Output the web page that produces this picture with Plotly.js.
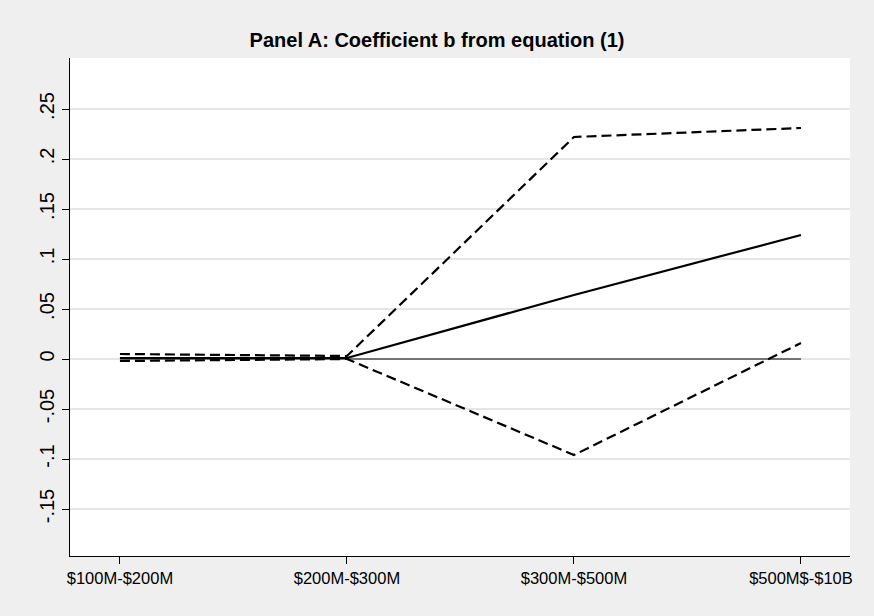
<!DOCTYPE html>
<html>
<head>
<meta charset="utf-8">
<script src="https://cdn.plot.ly/plotly-3.0.1.min.js"></script>
<style>
  html, body { margin: 0; padding: 0; background: #efefef; }
  #chart { width: 874px; height: 616px; }
</style>
</head>
<body>
<div id="chart"></div>
<script>
// Asset-size buckets on the x axis
const categories = ["$100M-$200M", "$200M-$300M", "$300M-$500M", "$500M$-$10B"];

// Point estimate of coefficient b and its confidence band
const estimate = [0.001, 0.001, 0.064, 0.124];
const upperCI  = [0.005, 0.003, 0.222, 0.231];
const lowerCI  = [-0.002, 0.000, -0.096, 0.016];
const zeroLine = [0, 0, 0, 0];

// Y axis ticks in Stata style (no leading zero)
const yTickVals  = [-0.15, -0.1, -0.05, 0, 0.05, 0.1, 0.15, 0.2, 0.25];
const yTickText  = ["-.15", "-.1", "-.05", "0", ".05", ".1", ".15", ".2", ".25"];

const xIdx = categories.map((_, i) => i);

const traces = [
  { x: xIdx, y: zeroLine, mode: "lines", line: { color: "#000", width: 1 }, hoverinfo: "skip" },
  { x: xIdx, y: upperCI, mode: "lines", line: { color: "#000", width: 2.2, dash: "10px,5px" } },
  { x: xIdx, y: lowerCI, mode: "lines", line: { color: "#000", width: 2.2, dash: "10px,5px" } },
  { x: xIdx, y: estimate, mode: "lines", line: { color: "#000", width: 2.2 } }
];

const layout = {
  width: 874,
  height: 616,
  paper_bgcolor: "#efefef",
  plot_bgcolor: "#ffffff",
  showlegend: false,
  margin: { l: 70, r: 24, t: 58, b: 60 },
  font: { family: "Liberation Sans, Arial, sans-serif", color: "#000", size: 16 },
  title: {
    text: "<b>Panel A: Coefficient b from equation (1)</b>",
    font: { family: "Liberation Sans, Arial, sans-serif", size: 20, color: "#000" },
    x: 0.5, xanchor: "center", y: 0.935, yanchor: "middle"
  },
  xaxis: {
    range: [-0.22, 3.216],
    tickvals: xIdx,
    ticktext: categories,
    showgrid: false,
    zeroline: false,
    showline: true, linecolor: "#000", linewidth: 1.2,
    ticks: "outside", ticklen: 7, tickcolor: "#000", tickwidth: 1,
    tickfont: { size: 16.5 }
  },
  yaxis: {
    range: [-0.197, 0.301],
    tickvals: yTickVals,
    ticktext: yTickText,
    tickangle: -90,
    showgrid: true, gridcolor: "#e6e6e6", gridwidth: 1.5,
    zeroline: false,
    showline: true, linecolor: "#000", linewidth: 1.2,
    ticks: "outside", ticklen: 7, tickcolor: "#000", tickwidth: 1,
    tickfont: { size: 20 }
  }
};

Plotly.newPlot("chart", traces, layout, { displayModeBar: false, staticPlot: true });
</script>
</body>
</html>
